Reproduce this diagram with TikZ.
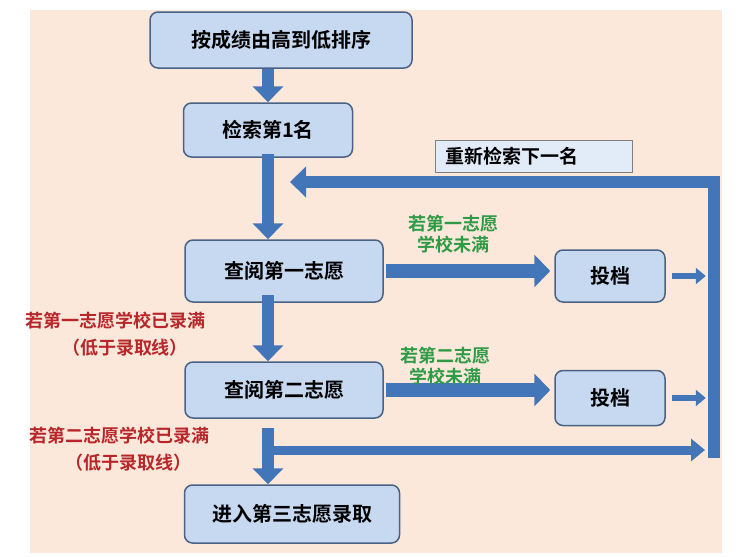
\documentclass[tikz,border=0pt]{standalone}
\usepackage{fontspec}
\setmainfont{Noto Sans CJK SC}[BoldFont={Noto Sans CJK SC Bold}]
\usetikzlibrary{arrows.meta}
\definecolor{peach}{HTML}{FBE8DA}
\definecolor{boxfill}{HTML}{C6D9F1}
\definecolor{boxline}{HTML}{4A6285}
\definecolor{arr}{HTML}{4376B8}
\definecolor{grn}{HTML}{2E9A45}
\definecolor{rd}{HTML}{B8262A}
\tikzset{
  flow/.style={draw=boxline,line width=1.5pt,fill=boxfill,rounded corners=8pt,font=\fontsize{20}{22}\selectfont\bfseries},
  big/.style={draw=arr,line width=12pt,-{Triangle[width=30pt,length=16pt]}},
  wide/.style={draw=arr,line width=14pt,-{Triangle[width=32pt,length=16pt]}},
  small/.style={draw=arr,line width=6pt,-{Triangle[width=16pt,length=10pt]}},
  thin/.style={draw=arr,line width=9pt,-{Triangle[width=22pt,length=14pt]}},
  gl/.style={text=grn,font=\fontsize{18}{21}\selectfont\bfseries,align=center},
  rl/.style={text=rd,font=\fontsize{18}{21}\selectfont\bfseries,align=center},
}
\begin{document}
\begin{tikzpicture}[x=1pt,y=-1pt]
\useasboundingbox (0,0) rectangle (748,557);
\fill[white] (0,0) rectangle (748,557);
\fill[peach] (30,10) rectangle (722,553);
% boxes
\node[flow,minimum width=262pt,minimum height=56pt] (b1) at (281,40) {按成绩由高到低排序};
\node[flow,minimum width=169pt,minimum height=54pt] (b2) at (268,130) {检索第1名};
\node[flow,minimum width=198pt,minimum height=62pt] (b3) at (284,271) {查阅第一志愿};
\node[flow,minimum width=198pt,minimum height=56pt] (b4) at (284,390) {查阅第二志愿};
\node[flow,minimum width=215pt,minimum height=58pt] (b5) at (292,514) {进入第三志愿录取};
\node[flow,minimum width=110pt,minimum height=52pt] (t1) at (610,276) {投档};
\node[flow,minimum width=110pt,minimum height=55pt] (t2) at (610,398) {投档};
\node[draw=gray,line width=1pt,fill=boxfill!50!white,minimum width=197pt,minimum height=32pt,font=\fontsize{19}{21}\selectfont\bfseries,anchor=west,text width=177pt,align=left] (lab) at (435,156) {重新检索下一名};
% coordinates
\coordinate (rtop) at (714,182);
\coordinate (ret) at (290,182);
\coordinate (split) at (268,428);
\coordinate (hs) at (262,450);
\coordinate (he) at (705,450);
% arrows
\draw[big] (b1.south -| 268,0) -- (b2.north -| 268,0);
\draw[big] ([yshift=4pt]b2.south -| 268,0) -- (b3.north -| 268,0);
\draw[big] ([yshift=8pt]b3.south -| 268,0) -- (b4.north -| 268,0);
\draw[big] (split) -- (b5.north -| 268,0);
\draw[thin] (hs) -- (he);
\draw[wide] ([xshift=2pt]b3.east) -- ([xshift=-4pt]t1.west |- b3.east);
\draw[wide] ([xshift=2pt]b4.east) -- ([xshift=-4pt]t2.west |- b4.east);
\draw[small] ([xshift=6pt]t1.east) -- ([xshift=40pt]t1.east);
\draw[small] ([xshift=6pt]t2.east) -- ([xshift=40pt]t2.east);
\fill[arr] (708,176) rectangle (720,458);
\draw[big] (rtop) -- (ret);
% labels
\node[gl] (g1) at (453,234) {若第一志愿\\学校未满};
\node[gl] (g2) at (445,366) {若第二志愿\\学校未满};
\node[rl,anchor=north west] (r1) at (22,308) {若第一志愿学校已录满};
\node[rl] (r1b) at (125,348) {（低于录取线）};
\node[rl,anchor=north west] (r2) at (26,423) {若第二志愿学校已录满};
\node[rl] (r2b) at (128,463) {（低于录取线）};
\end{tikzpicture}
\end{document}
